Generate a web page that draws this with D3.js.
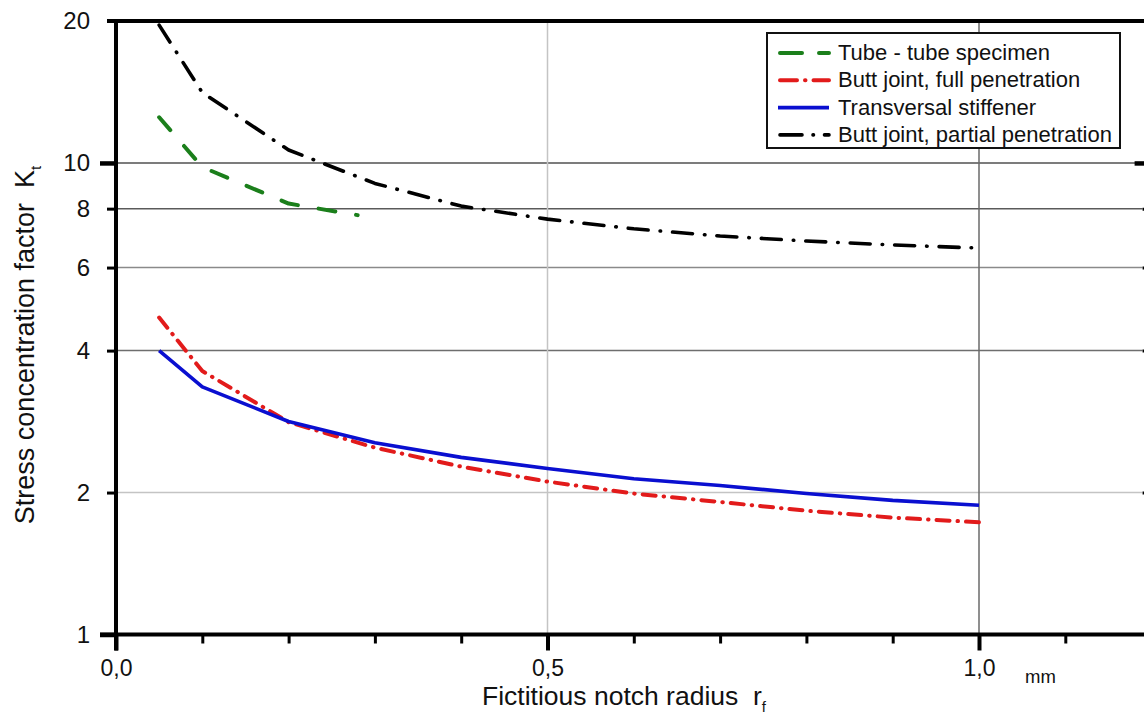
<!DOCTYPE html>
<html>
<head>
<meta charset="utf-8">
<script src="https://cdn.jsdelivr.net/npm/d3@7"></script>
<style>
  html, body { margin: 0; padding: 0; background: #fff; }
  svg { display: block; font-family: "Liberation Sans", Arial, sans-serif; }
  text { white-space: pre; }
</style>
</head>
<body>
<svg id="chart" width="1144" height="718"></svg>
<script>
// Fictitious notch radius (mm) sampling points
const radii = [0.05, 0.1, 0.2, 0.3, 0.4, 0.5, 0.6, 0.7, 0.8, 0.9, 1.0];
const tubeRadii = [0.05, 0.1, 0.2, 0.28];

// Stress concentration factor Kt per detail
const tubeKt = [12.5, 9.8, 8.2, 7.75];
const buttFullKt = [4.7, 3.62, 2.82, 2.49, 2.27, 2.11, 1.99, 1.91, 1.83, 1.77, 1.73];
const stiffenerKt = [4.0, 3.35, 2.83, 2.55, 2.375, 2.25, 2.14, 2.07, 1.99, 1.925, 1.88];
const buttPartialKt = [19.6, 14.1, 10.65, 9.05, 8.1, 7.6, 7.25, 7.0, 6.83, 6.7, 6.6];

const seriesNames = [
  "Tube - tube specimen",
  "Butt joint, full penetration",
  "Transversal stiffener",
  "Butt joint, partial penetration"
];

const yTickValues = [1, 2, 4, 6, 8, 10, 20];
const yMajorTicks = [1, 10];
const xTickValues = [0, 0.1, 0.2, 0.3, 0.4, 0.5, 0.6, 0.7, 0.8, 0.9, 1.0, 1.1, 1.2];
const xLabelledTicks = [0, 0.5, 1.0];
const hGridValues = [2, 4, 6, 8, 10];
const vGridValues = [0.5, 1.0];

const svg = d3.select("#chart");
const W = 1144, H = 718;
svg.append("rect").attr("width", W).attr("height", H).attr("fill", "#fff");

const x = d3.scaleLinear().domain([0, 1.2]).range([116, 116 + 1.2 * 863]);
const y = d3.scaleLog().domain([1, 20]).range([634.5, 21]);

const comma = d3.formatLocale({decimal: ",", thousands: ".", grouping: [3], currency: ["", ""]}).format(".1f");

// grid lines
const gridColor = {2: "#c4c4c4", 4: "#6e6e6e", 6: "#8a8a8a", 8: "#5a5a5a", 10: "#505050"};
svg.append("g").selectAll("line").data(hGridValues).join("line")
  .attr("x1", x(0)).attr("x2", x(1.2) - 9)
  .attr("y1", d => y(d)).attr("y2", d => y(d))
  .attr("stroke", d => gridColor[d]).attr("stroke-width", 1.5);
const vGridColor = {0.5: "#c4c4c4", 1: "#6a6a6a"};
svg.append("g").selectAll("line").data(vGridValues).join("line")
  .attr("x1", d => x(d)).attr("x2", d => x(d))
  .attr("y1", y(20)).attr("y2", y(1))
  .attr("stroke", d => vGridColor[d]).attr("stroke-width", 1.5);

// curves
const line = d3.line().x(d => x(d[0])).y(d => y(d[1]));
const curves = [
  {r: tubeRadii, k: tubeKt, color: "#1b7f1b", width: 4, dash: "17,21", cap: "round"},
  {r: radii, k: buttFullKt, color: "#e21b1b", width: 4, dash: "13,8,0.5,8", cap: "round"},
  {r: radii, k: stiffenerKt, color: "#0a0fd0", width: 3.6, dash: null, cap: "butt"},
  {r: radii, k: buttPartialKt, color: "#000", width: 3.6, dash: "20,12,0.5,12", cap: "round"}
];
svg.append("g").selectAll("path").data(curves).join("path")
  .attr("d", c => line(c.r.map((r, i) => [r, c.k[i]])))
  .attr("fill", "none")
  .attr("stroke", c => c.color)
  .attr("stroke-width", c => c.width)
  .attr("stroke-linecap", c => c.cap)
  .attr("stroke-linejoin", "round")
  .attr("stroke-dasharray", c => c.dash);

// left axis
const yAxis = svg.append("g").attr("transform", `translate(${x(0)},0)`)
  .call(d3.axisLeft(y).tickValues(yTickValues).tickFormat(d3.format("d")).tickSizeOuter(0));
yAxis.select(".domain").remove();
yAxis.selectAll(".tick line")
  .attr("x2", d => yMajorTicks.includes(d) ? -16 : -9)
  .attr("stroke", "#000")
  .attr("stroke-width", d => yMajorTicks.includes(d) ? 4.5 : 3);
yAxis.selectAll(".tick text").attr("font-size", 24).attr("fill", "#111")
  .attr("font-family", "Liberation Sans, Arial, sans-serif")
  .attr("x", -26);

// right axis (ticks only, facing inward)
const yAxisR = svg.append("g").attr("transform", `translate(${x(1.2)},0)`)
  .call(d3.axisLeft(y).tickValues(yTickValues.filter(d => d !== 1 && d !== 20)).tickFormat("").tickSizeOuter(0));
yAxisR.select(".domain").remove();
yAxisR.selectAll(".tick line")
  .attr("x2", d => yMajorTicks.includes(d) ? -17 : -9)
  .attr("stroke", "#000")
  .attr("stroke-width", d => yMajorTicks.includes(d) ? 4.5 : 3);

// bottom axis
const xAxis = svg.append("g").attr("transform", `translate(0,${y(1)})`)
  .call(d3.axisBottom(x).tickValues(xTickValues)
    .tickFormat(d => xLabelledTicks.some(v => Math.abs(v - d) < 1e-9) ? comma(d) : "")
    .tickSizeOuter(0).tickPadding(19));
xAxis.select(".domain").remove();
xAxis.selectAll(".tick line")
  .attr("y2", d => xLabelledTicks.some(v => Math.abs(v - d) < 1e-9) ? 16 : 9)
  .attr("stroke", "#000")
  .attr("stroke-width", d => xLabelledTicks.some(v => Math.abs(v - d) < 1e-9) ? 4 : 3);
xAxis.selectAll(".tick text").attr("font-size", 23).attr("fill", "#111")
  .attr("font-family", "Liberation Sans, Arial, sans-serif");

// frame lines
const frame = svg.append("g").attr("stroke", "#000").attr("stroke-width", 4);
frame.append("line").attr("x1", x(0)).attr("x2", x(0)).attr("y1", y(20) - 2).attr("y2", y(1) + 16);
frame.append("line").attr("x1", 100).attr("x2", W).attr("y1", y(1)).attr("y2", y(1));
frame.append("line").attr("x1", 107).attr("x2", W).attr("y1", y(20)).attr("y2", y(20));

// axis titles
const yTitle = svg.append("text")
  .attr("transform", "translate(34,345) rotate(-90)")
  .attr("text-anchor", "middle").attr("font-size", 27).attr("fill", "#111");
yTitle.append("tspan").text("Stress concentration factor  K");
yTitle.append("tspan").attr("font-size", 15).attr("dy", 7).text("t");

const xTitle = svg.append("text")
  .attr("x", 482).attr("y", 705).attr("font-size", 26.5).attr("fill", "#111");
xTitle.append("tspan").text("Fictitious notch radius  r");
xTitle.append("tspan").attr("font-size", 15).attr("dy", 7).text("f");

svg.append("text").attr("x", 1025).attr("y", 683).attr("font-size", 18.5).attr("fill", "#111").text("mm");

// legend
const lg = svg.append("g");
lg.append("rect").attr("x", 767).attr("y", 33).attr("width", 353).attr("height", 115)
  .attr("fill", "#fff").attr("stroke", "#111").attr("stroke-width", 2);
const legendDash = ["22,17", "17,8,0.5,8", null, "22,11,0.5,11"];
const rows = lg.selectAll("g.row").data(curves).join("g").attr("class", "row")
  .attr("transform", (d, i) => `translate(0,${60 + i * 27.3})`);
rows.append("line")
  .attr("x1", (d, i) => i === 2 ? 778 : 780).attr("x2", 829)
  .attr("y1", -7).attr("y2", -7)
  .attr("stroke", d => d.color).attr("stroke-width", d => d.width)
  .attr("stroke-linecap", (d, i) => i === 2 ? "butt" : "round")
  .attr("stroke-dasharray", (d, i) => legendDash[i]);
rows.append("text").attr("x", 838).attr("y", 0).attr("font-size", 22).attr("fill", "#111")
  .text((d, i) => seriesNames[i]);
</script>
</body>
</html>
